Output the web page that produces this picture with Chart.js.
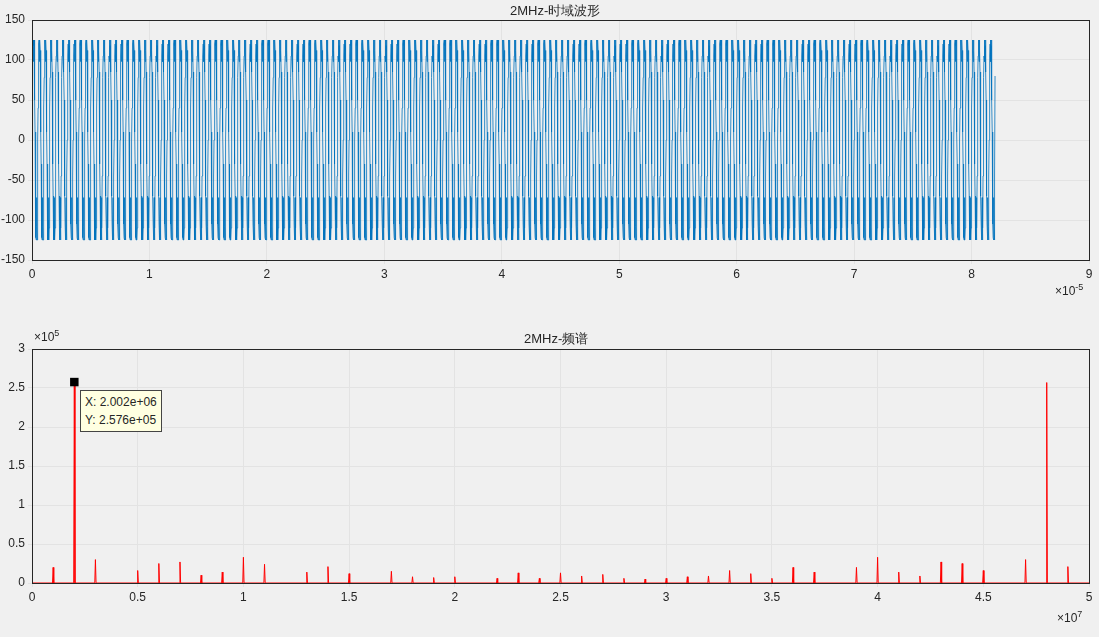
<!DOCTYPE html>
<html><head><meta charset="utf-8">
<script src="https://cdn.jsdelivr.net/npm/chart.js@4.4.0/dist/chart.umd.min.js"></script>
<style>
body{margin:0;background:#f0f0f0;font-family:"Liberation Sans",Arial,sans-serif;color:#262626;}
.box{position:absolute;}
.t{position:absolute;font-size:13px;white-space:nowrap;}
</style></head><body>
<div class="box" style="left:0;top:0;width:1099px;height:290px"><canvas id="top"></canvas></div>
<div class="box" style="left:0;top:329px;width:1099px;height:284px"><canvas id="bot"></canvas></div>
<div class="t" style="left:510px;top:2px">2MHz-时域波形</div>
<div class="t" style="left:524px;top:330px">2MHz-频谱</div>
<div class="t" style="left:1055px;top:282px;font-size:12px">×10<sup style="font-size:9px">-5</sup></div>
<div class="t" style="left:34px;top:328px;font-size:12px">×10<sup style="font-size:9px">5</sup></div>
<div class="t" style="left:1057px;top:609px;font-size:12px">×10<sup style="font-size:9px">7</sup></div>
<div class="t" style="left:80px;top:390px;font-size:12px;background:#ffffe1;border:1px solid #444;padding:2px 4px;line-height:18px">X: 2.002e+06<br>Y: 2.576e+05</div>
<script>
// time domain: 50 MHz sampling, one 2 MHz cycle (25 samples)
const fs = 5e7;
const cycleShape = [0, 40, 78, 105, 120, 125, 110, 98, 118, 125, 112, 85, 50, 10, -30, -70, -105, -122, -125, -100, -72, -108, -125, -110, -45];
const cycleCount = 164;
const lastValue = 80;

// spectrum spikes: frequency (MHz) and magnitude (x1e4)
const spikeFreq = [0, 1, 2.002, 3, 5, 6, 7, 8, 9, 10, 11, 13, 14, 15, 17, 18, 19, 20, 22, 23, 24, 25, 26, 27, 28, 29, 30, 31, 32, 33, 34, 35, 36, 37, 39, 40, 41, 42, 43, 44, 45, 47, 48, 49];
const spikeMag = [2.0, 2.0, 25.76, 3.0, 1.6, 2.5, 2.7, 1.0, 1.4, 3.3, 2.4, 1.4, 2.1, 1.2, 1.5, 0.8, 0.7, 0.8, 0.6, 1.3, 0.6, 1.3, 0.9, 1.1, 0.6, 0.5, 0.6, 0.8, 0.9, 1.6, 1.2, 0.6, 2.0, 1.4, 2.0, 3.3, 1.4, 0.9, 2.7, 2.5, 1.6, 3.0, 25.7, 2.1];

const wave = [];
for (let c = 0; c < cycleCount; c++) {
  cycleShape.forEach((v, i) => {
    const n = c * cycleShape.length + i;
    wave.push({x: n / fs * 1e5, y: v});
  });
}
wave.push({x: wave.length / fs * 1e5, y: lastValue});

const spec = [{x: 0, y: spikeMag[0] * 0.1}];
spikeFreq.forEach((f, i) => {
  const x = f / 10;
  if (x > 0) spec.push({x: x - 0.003, y: 0});
  spec.push({x: x, y: spikeMag[i] * 0.1});
  spec.push({x: x + 0.003, y: 0});
});
spec.push({x: 5, y: 0});

const frame = {
  id: 'frame',
  afterDraw(chart) {
    const a = chart.chartArea, c = chart.ctx;
    c.save(); c.strokeStyle = '#262626'; c.lineWidth = 1;
    c.strokeRect(a.left + 0.5, a.top + 0.5, a.right - a.left, a.bottom - a.top);
    c.restore();
  }
};

const fmt = v => String(+v.toFixed(2));

function opts(xmin, xmax, xstep, ymin, ymax, ystep) {
  const tickFont = {family: 'Liberation Sans', size: 12};
  return {
    responsive: true, maintainAspectRatio: false, animation: false,
    layout: {padding: {top: 20, right: 10}},
    plugins: {legend: {display: false}, tooltip: {enabled: false}},
    scales: {
      x: {type: 'linear', min: xmin, max: xmax,
        ticks: {stepSize: xstep, color: '#262626', font: tickFont, maxRotation: 0, callback: fmt},
        grid: {color: '#e3e3e3', tickLength: 4},
        border: {color: '#262626'},
        afterFit: s => { s.height = 30; }},
      y: {min: ymin, max: ymax,
        ticks: {stepSize: ystep, color: '#262626', font: tickFont, callback: fmt},
        grid: {color: '#e3e3e3', tickLength: 4},
        border: {color: '#262626'},
        afterFit: s => { s.width = 32; }}
    }
  };
}

new Chart(document.getElementById('top'), {
  type: 'line',
  data: {datasets: [{data: wave, borderColor: '#0072bd', borderWidth: 0.8, pointRadius: 0}]},
  options: opts(0, 9, 1, -150, 150, 50),
  plugins: [frame]
});

new Chart(document.getElementById('bot'), {
  type: 'line',
  data: {datasets: [
    {data: [{x: 0.2002, y: 2.576}], borderWidth: 0, pointStyle: 'rect', pointRadius: 6,
     pointBackgroundColor: '#000', pointBorderColor: '#fff', showLine: false},
    {data: spec, borderColor: '#ff0000', borderWidth: 1, pointRadius: 0}
  ]},
  options: opts(0, 5, 0.5, 0, 3, 0.5),
  plugins: [frame]
});
</script>
</body></html>
